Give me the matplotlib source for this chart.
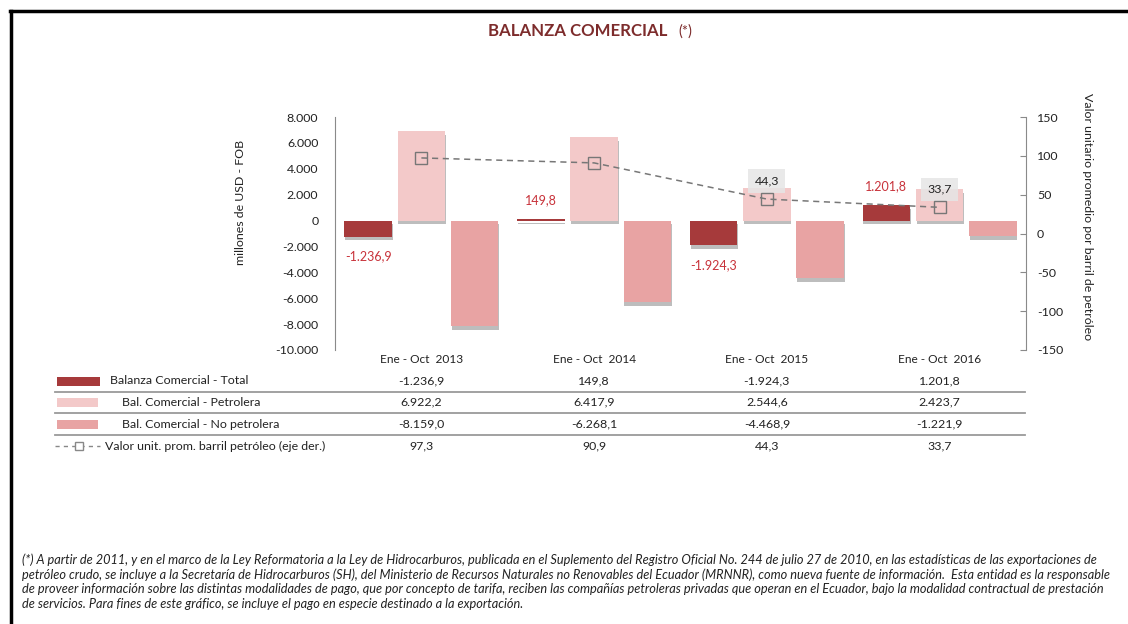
import matplotlib
matplotlib.use("Agg")
import matplotlib.pyplot as plt
import matplotlib.patheffects as pe
from matplotlib import transforms
from matplotlib.lines import Line2D
from matplotlib.patches import Rectangle
from matplotlib.ticker import FuncFormatter, FixedLocator

# ---------------- data ----------------
categories = ['Ene - Oct  2013', 'Ene - Oct  2014', 'Ene - Oct  2015', 'Ene - Oct  2016']
total = [-1236.9, 149.8, -1924.3, 1201.8]
petrolera = [6922.2, 6417.9, 2544.6, 2423.7]
no_petrolera = [-8159.0, -6268.1, -4468.9, -1221.9]
precio = [97.3, 90.9, 44.3, 33.7]
series_names = ['Balanza Comercial - Total', 'Bal. Comercial - Petrolera',
                'Bal. Comercial - No petrolera',
                'Valor unit. prom. barril petróleo (eje der.)']
left_ticks = [8000, 6000, 4000, 2000, 0, -2000, -4000, -6000, -8000, -10000]
right_ticks = [150, 100, 50, 0, -50, -100, -150]

plt.rcParams['font.family'] = ['Lato', 'DejaVu Sans']
plt.rcParams['axes.unicode_minus'] = False

C_TOTAL = '#a63a3b'
C_PETRO = '#f3c9c9'
C_NOPET = '#e8a3a3'
C_RED_TXT = '#c8323a'
C_TXT = '#222222'
FS = 8.9


def es_num(v, dec=1):
    s = f"{v:,.{dec}f}"
    return s.replace(',', 'X').replace('.', ',').replace('X', '.')


W, H = 1128, 624
fig = plt.figure(figsize=(W / 100, H / 100), dpi=100)
fig.patch.set_facecolor('white')

# border lines (screenshot frame)
fig.add_artist(Line2D([10 / W, 1], [1 - 11 / H, 1 - 11 / H], color='black', lw=2.5))
fig.add_artist(Line2D([11 / W, 11 / W], [0, 1 - 11 / H], color='black', lw=2.5))

# title
fig.text(488 / W, 1 - 31 / H, 'BALANZA COMERCIAL', ha='left', va='center',
         fontsize=12.1, fontweight='bold', color='#7d2c2c')
fig.text(678 / W, 1 - 32 / H, '(*)', ha='left', va='center', fontsize=10.5,
         color='#7d2c2c')

x0, x1, ytop, ybot = 335, 1026, 117, 350
ax = fig.add_axes([x0 / W, 1 - ybot / H, (x1 - x0) / W, (ybot - ytop) / H])
ax.set_xlim(-0.5, 3.5)
ax.set_ylim(-10000, 8000)
ax.patch.set_alpha(0)

xs = list(range(len(categories)))
off, bw = 0.308, 0.275
shadow = [pe.SimplePatchShadow(offset=(0.5, -2.8), shadow_rgbFace='#444444', alpha=0.35),
          pe.Normal()]

b1 = ax.bar([x - off for x in xs], total, width=bw, color=C_TOTAL, zorder=3)
b2 = ax.bar(xs, petrolera, width=bw, color=C_PETRO, zorder=3)
b3 = ax.bar([x + off for x in xs], no_petrolera, width=bw, color=C_NOPET, zorder=3)
for bars in (b1, b2, b3):
    for r in bars:
        r.set_path_effects(shadow)

for x, v in zip(xs, total):
    dy = 9 if v > 0 else -10
    ax.annotate(es_num(v), (x - off, v), xytext=(0, dy), textcoords='offset points',
                ha='center', va='bottom' if v > 0 else 'top', fontsize=9,
                color=C_RED_TXT, zorder=5)

for s in ['top', 'right', 'bottom']:
    ax.spines[s].set_visible(False)
ax.spines['left'].set_color('#8a8a8a')
ax.yaxis.set_major_locator(FixedLocator(left_ticks))
ax.yaxis.set_major_formatter(FuncFormatter(lambda v, p: es_num(v, 0)))
ax.tick_params(axis='y', length=0, pad=12, labelsize=FS, labelcolor=C_TXT)
ax.set_xticks(xs)
ax.set_xticklabels(categories)
ax.tick_params(axis='x', length=0, pad=3, labelsize=8.6, labelcolor=C_TXT)
ax.set_ylabel('millones de USD - FOB', fontsize=FS, color=C_TXT, va='center')
ax.yaxis.set_label_coords((240 - x0) / (x1 - x0), (ybot - 202) / (ybot - ytop))

ax2 = ax.twinx()
ax2.set_ylim(-150, 150)
for s in ['top', 'left', 'bottom']:
    ax2.spines[s].set_visible(False)
ax2.spines['right'].set_color('#8a8a8a')
ax2.yaxis.set_major_locator(FixedLocator(right_ticks))
ax2.yaxis.set_major_formatter(FuncFormatter(lambda v, p: f"{int(v)}"))
ax2.tick_params(axis='y', direction='in', length=4, color='#8a8a8a', pad=8,
                labelsize=FS, labelcolor=C_TXT)
ax2.set_ylabel('Valor unitario promedio por barril de petróleo', rotation=270,
               fontsize=FS, color=C_TXT, va='center')
ax2.yaxis.set_label_coords((1088 - x0) / (x1 - x0), (ybot - 217) / (ybot - ytop))
ax2.plot(xs, precio, ls=(0, (4, 3)), color='#777777', lw=1.1, marker='s',
         markersize=8, markerfacecolor='none', markeredgecolor='#777777',
         markeredgewidth=1.0, zorder=4)
for i in (2, 3):
    ax2.annotate(es_num(precio[i]), (xs[i], precio[i]), xytext=(0, 9),
                 textcoords='offset points', ha='center', va='bottom', fontsize=FS,
                 color=C_TXT,
                 bbox=dict(boxstyle='square,pad=0.5', fc='#e6e6e6', ec='none', alpha=0.85))

# ---------------- data table ----------------
tr = transforms.blended_transform_factory(ax.transData, fig.transFigure)
row_y = [381, 402, 424, 446]
values = [total, petrolera, no_petrolera, precio]
for ry, vals in zip(row_y, values):
    for x, v in zip(xs, vals):
        fig.text(x, 1 - ry / H, es_num(v), transform=tr, ha='center', va='center',
                 fontsize=FS, color=C_TXT)

for ly in (392, 413, 435):
    fig.add_artist(Line2D([55 / W, 1025 / W], [1 - ly / H] * 2, color='#9a9a9a', lw=1.3))

label_x = [110, 122, 122, 105]
for ry, lx, name in zip(row_y, label_x, series_names):
    fig.text(lx / W, 1 - ry / H, name, ha='left', va='center', fontsize=FS, color=C_TXT)

for ry, c, xr in zip(row_y[:3], [C_TOTAL, C_PETRO, C_NOPET], [100, 98, 98]):
    fig.add_artist(Rectangle((57 / W, 1 - (ry + 4.5) / H), (xr - 57) / W, 9 / H,
                             transform=fig.transFigure, color=c, lw=0))
fig.add_artist(Line2D([55 / W, 100 / W], [1 - 446 / H] * 2, ls=(0, (3, 3)),
                      color='#888888', lw=1))
fig.add_artist(Line2D([79 / W], [1 - 446 / H], marker='s', markersize=6,
                      markerfacecolor='white', markeredgecolor='#888888', lw=0))

# ---------------- footnote ----------------
foot = [
    "(*) A partir de 2011, y en el marco de la Ley Reformatoria a la Ley de Hidrocarburos, publicada en el Suplemento del Registro Oficial No. 244 de julio 27 de 2010, en las estadísticas de las exportaciones de",
    "petróleo crudo, se incluye a la Secretaría de Hidrocarburos (SH), del Ministerio de Recursos Naturales no Renovables del Ecuador (MRNNR), como nueva fuente de información.  Esta entidad es la responsable",
    "de proveer información sobre las distintas modalidades de pago, que por concepto de tarifa, reciben las compañías petroleras privadas que operan en el Ecuador, bajo la modalidad contractual de prestación",
    "de servicios. Para fines de este gráfico, se incluye el pago en especie destinado a la exportación.",
]
for i, line in enumerate(foot):
    fig.text(22 / W, 1 - (560 + i * 14.7) / H, line, ha='left', va='center', fontsize=9.15,
             style='italic', color=C_TXT)

fig.savefig('out.png', dpi=100)
